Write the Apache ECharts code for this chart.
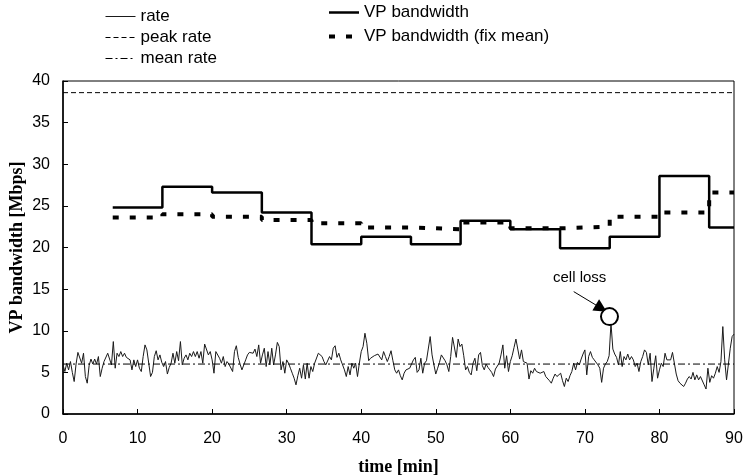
<!DOCTYPE html>
<html>
<head>
<meta charset="utf-8">
<script src="https://cdn.jsdelivr.net/npm/echarts@6/dist/echarts.min.js"></script>
<style>html,body{margin:0;padding:0;background:#fff;overflow:hidden;}#c{width:744px;height:476px;}</style>
</head>
<body>
<div id="c"></div>
<script>
// ---- data ----
const rateStep = 0.25; // minutes between rate samples
const rateValues = [
5.9,5.1,6.1,5.3,6.3,5.0,3.9,6.0,7.4,7.6,6.1,7.3,4.5,3.7,5.8,6.6,6.0,6.6,6.0,6.9,
4.5,5.5,6.3,6.1,7.3,7.5,5.9,8.7,5.5,7.3,6.9,7.5,6.9,7.3,6.8,6.6,6.5,5.3,6.5,5.7,
6.5,5.5,5.1,6.9,8.3,7.7,6.1,4.5,5.0,6.9,7.6,6.5,7.1,6.2,5.7,6.3,4.8,5.6,6.1,7.3,
6.1,7.5,6.4,8.7,5.9,6.7,7.1,6.5,7.3,6.9,7.5,6.9,7.5,6.7,7.5,6.1,8.4,8.5,7.1,7.5,
6.5,4.9,7.5,7.7,6.7,6.1,6.9,5.7,
6.3,6.0,5.9,5.1,7.5,8.2,6.8,6.0,5.3,5.9,6.5,7.1,
7.4,7.5,7.3,7.8,6.9,8.3,6.1,7.1,7.9,5.7,7.5,5.9,7.9,5.9,7.1,8.6,8.1,5.3,6.3,4.9,
6.5,6.1,5.5,4.9,4.3,3.5,4.6,5.5,4.3,5.9,4.2,6.1,4.3,5.7,5.1,6.1,5.9,7.3,7.5,6.9,
6.3,5.9,6.1,6.9,6.5,7.9,8.2,6.8,7.3,6.5,6.6,5.3,4.5,5.7,4.7,6.1,5.5,6.1,4.5,6.1,
7.5,8.1,9.7,8.5,6.4,6.7,6.6,7.0,6.8,7.2,7.2,6.5,7.5,6.9,6.3,6.9,7.6,6.4,5.3,4.9,
5.3,4.6,4.1,4.9,5.3,5.2,5.5,6.0,6.5,6.8,5.0,5.3,6.7,4.9,6.1,6.4,6.2,9.3,7.1,5.9,
4.8,5.5,6.2,7.1,6.9,6.4,5.9,5.1,6.9,9.2,9.3,6.8,9.0,8.1,8.4,7.0,5.3,5.7,5.0,4.7,
6.1,6.7,5.2,7.1,7.4,5.8,5.3,6.0,5.6,5.3,5.0,4.5,5.4,5.2,6.1,7.1,8.3,5.5,7.0,5.1,
6.3,7.0,8.0,9.0,8.9,6.6,7.7,6.3,6.3,6.1,4.2,5.2,4.9,5.5,5.1,5.2,4.9,4.7,5.1,4.5,
4.3,4.0,3.7,4.3,4.8,4.5,4.3,4.9,4.0,3.3,4.3,3.9,4.6,5.1,6.1,5.3,6.2,5.9,6.6,7.2,
7.7,4.7,6.9,7.5,6.8,6.5,6.3,5.9,5.5,3.8,5.5,6.0,6.3,7.0,10.9,7.8,7.2,6.8,5.9,7.5,
5.7,6.9,6.5,7.2,6.5,6.9,6.5,5.7,6.1,5.1,6.3,6.9,7.7,7.4,5.9,7.3,3.9,5.5,7.0,4.3,
5.3,6.1,5.7,7.3,6.5,6.3,6.5,7.4,7.3,4.8,4.0,3.7,3.5,3.3,3.7,4.2,4.5,4.2,5.0,4.1,
4.7,4.1,4.5,4.7,3.5,3.0,5.5,3.8,4.6,4.3,4.9,5.7,5.0,6.3,10.5,6.5,4.1,3.9,7.9,9.3,9.6
];
const peakRate = 38.6;
const meanRate = 6.0;
const timeRange = [0, 90];
// step boundaries (min) and the value held from each boundary to the next
const vpTimes = [6.67, 13.33, 20, 26.67, 33.33, 40, 46.67, 53.33, 60, 66.67, 73.33, 80, 86.67, 90];
const vpBandwidth = [24.8, 27.3, 26.6, 24.2, 20.4, 21.3, 20.4, 23.2, 22.2, 19.9, 21.3, 28.6, 22.4];
const vpFixMean = [23.6, 24.0, 23.7, 23.3, 22.9, 22.4, 22.2, 23.0, 22.3, 22.5, 23.7, 24.2, 26.6];
const xTicks = [0, 10, 20, 30, 40, 50, 60, 70, 80, 90];
const yTicks = [0, 5, 10, 15, 20, 25, 30, 35, 40];
// annotation anchors (data units)
const cellLossPoint = [73.3, 11.7];
const cellLossLabelPoint = [69.3, 16.3];
const arrowFrom = [68.5, 14.7];
const arrowTo = [72.2, 12.7];

// ---- build ----
const rateData = rateValues.map((v, i) => [i * rateStep, v]);
function stepData(vals) {
  const d = vals.map((v, i) => [vpTimes[i], v]);
  d.push([vpTimes[vpTimes.length - 1], vals[vals.length - 1]]);
  return d;
}
const sans = 'Liberation Sans, Arial, sans-serif';
const serif = 'Liberation Serif, Times New Roman, serif';
const styles = {
  rate: {color: '#1a1a1a', width: 1, type: 'solid'},
  peak: {color: '#000', width: 1, type: [5, 3]},
  mean: {color: '#000', width: 1, type: [7, 3, 2, 3]},
  vp: {color: '#000', width: 2.5, type: 'solid'},
  fix: {color: '#000', width: 4, type: [6, 11]}
};
const legendText = {fontFamily: sans, fontSize: 17, color: '#000'};

const chart = echarts.init(document.getElementById('c'), null, {renderer: 'canvas', width: 744, height: 476});
chart.setOption({
  animation: false,
  backgroundColor: '#fff',
  grid: {left: 63, right: 10, top: 81, bottom: 62, show: true, borderColor: '#000', borderWidth: 1,
         containLabel: false, outerBoundsMode: 'none'},
  legend: [
    {data: [
       {name: 'rate', lineStyle: styles.rate},
       {name: 'peak rate', lineStyle: styles.peak},
       {name: 'mean rate', lineStyle: styles.mean}],
     orient: 'vertical', left: 105, top: 8, padding: 0,
     itemWidth: 30, itemHeight: 14, itemGap: 4, itemStyle: {opacity: 0},
     textStyle: legendText, selectedMode: false},
    {data: [
       {name: 'VP bandwidth', lineStyle: styles.vp},
       {name: 'VP bandwidth (fix mean)', lineStyle: styles.fix}],
     orient: 'vertical', left: 327, top: 4, padding: 0,
     itemWidth: 30, itemHeight: 14, itemGap: 7, itemStyle: {opacity: 0},
     textStyle: legendText, selectedMode: false}
  ],
  xAxis: {
    type: 'value', min: timeRange[0], max: timeRange[1], interval: xTicks[1] - xTicks[0],
    name: 'time [min]', nameLocation: 'middle', nameGap: 44, nameMoveOverlap: false,
    nameTextStyle: {fontFamily: serif, fontWeight: 'bold', fontSize: 18, color: '#000'},
    axisLine: {show: true, onZero: false, lineStyle: {color: '#000', width: 1.5}},
    axisTick: {show: true, inside: true, length: 5, lineStyle: {color: '#000'}},
    axisLabel: {fontFamily: sans, fontSize: 16, color: '#000', margin: 17},
    splitLine: {show: false}
  },
  yAxis: {
    type: 'value', min: yTicks[0], max: yTicks[yTicks.length - 1], interval: yTicks[1] - yTicks[0],
    name: 'VP bandwidth [Mbps]', nameLocation: 'middle', nameGap: 37, nameMoveOverlap: false,
    nameTextStyle: {fontFamily: serif, fontWeight: 'bold', fontSize: 18, color: '#000'},
    axisLine: {show: true, onZero: false, lineStyle: {color: '#000', width: 1.5}},
    axisTick: {show: true, inside: true, length: 5, lineStyle: {color: '#000'}},
    axisLabel: {fontFamily: sans, fontSize: 16, color: '#000', margin: 13},
    splitLine: {show: false}
  },
  series: [
    {name: 'rate', type: 'line', data: rateData, symbol: 'none', z: 3,
     lineStyle: styles.rate, itemStyle: {color: styles.rate.color},
     markPoint: {
       silent: true, animation: false,
       data: [
         {coord: cellLossPoint, symbol: 'emptyCircle', symbolSize: 17,
          itemStyle: {color: '#000', borderColor: '#000', borderWidth: 1},
          label: {show: false}},
         {coord: cellLossLabelPoint, symbol: 'circle', symbolSize: 1,
          itemStyle: {color: 'rgba(0,0,0,0)'},
          label: {show: true, position: 'inside', formatter: 'cell loss',
                  fontFamily: sans, fontSize: 15, color: '#000'}}
       ]
     },
     markLine: {
       silent: true, animation: false, symbol: ['none', 'triangle'], symbolSize: 13,
       lineStyle: {color: '#000', width: 1, type: 'solid'}, itemStyle: {color: '#000'},
       label: {show: false},
       data: [[{coord: arrowFrom}, {coord: arrowTo}]]
     }},
    {name: 'peak rate', type: 'line', data: [[timeRange[0], peakRate], [timeRange[1], peakRate]],
     symbol: 'none', lineStyle: styles.peak, itemStyle: {color: '#000'}},
    {name: 'mean rate', type: 'line', data: [[timeRange[0], meanRate], [timeRange[1], meanRate]],
     symbol: 'none', lineStyle: styles.mean, itemStyle: {color: '#000'}},
    {name: 'VP bandwidth', type: 'line', step: 'end', data: stepData(vpBandwidth),
     symbol: 'none', z: 4, lineStyle: styles.vp, itemStyle: {color: '#000'}},
    {name: 'VP bandwidth (fix mean)', type: 'line', step: 'end', data: stepData(vpFixMean),
     symbol: 'none', z: 5, lineStyle: styles.fix, itemStyle: {color: '#000'}}
  ]
});
</script>
</body>
</html>
